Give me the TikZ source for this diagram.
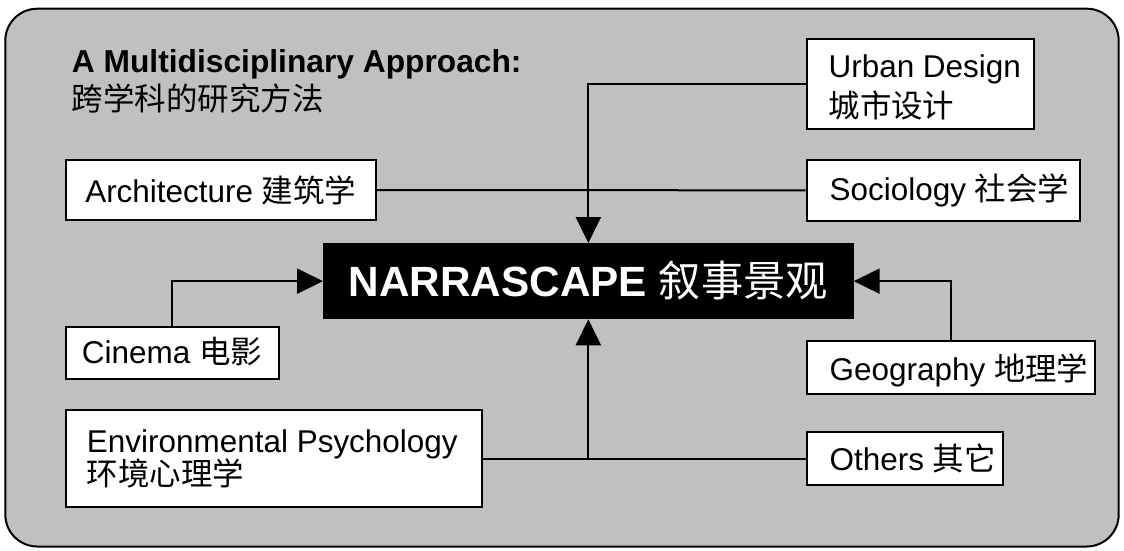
\documentclass[tikz,border=0pt]{standalone}
\usepackage{fontspec}
\setmainfont{Liberation Sans}
\newfontfamily\cjk{Noto Sans CJK SC}
\usetikzlibrary{arrows.meta,fit}
\definecolor{bggray}{HTML}{C0C0C0}
\begin{document}
\begin{tikzpicture}[x=0.75pt,y=-0.75pt,
  box/.style={draw=black, line width=1.5pt, fill=white, rectangle, inner sep=0pt},
  corebox/.style={draw=black, line width=1.5pt, fill=black, rectangle, inner sep=0pt},
  txt/.style={anchor=base west, inner sep=0pt, font=\fontsize{23.6}{28}\selectfont},
  conn/.style={line width=1.5pt},
  arr/.style={line width=1.5pt, -{Triangle[length=19.5pt,width=18.75pt]}}]
\useasboundingbox (0,0) rectangle (1124,550);
\draw[line width=1.5pt, fill=bggray, rounded corners=24pt] (5.3,8.7) rectangle (1118.7,546.5);

% title
\node[txt, font=\bfseries\fontsize{23.8}{28}\selectfont] (title) at (71.7,72.7) {A Multidisciplinary Approach:};
\node[txt] (titlecn) at (71.7,110) {\cjk 跨学科的研究方法};

% boxes
\node[box, fit={(806.7,39) (1034,129.3)}] (urban) {};
\node[box, fit={(806.7,160) (1080,220.7)}] (soc) {};
\node[box, fit={(66,160) (376,220)}] (arch) {};
\node[corebox, fit={(324,244) (852.7,318.3)}] (core) {};
\node[box, fit={(66,326.7) (278.6,379.3)}] (cin) {};
\node[box, fit={(66,410) (482,507.3)}] (env) {};
\node[box, fit={(806.7,341) (1094.9,394.3)}] (geo) {};
\node[box, fit={(806.7,432.3) (1003.3,485)}] (oth) {};

% texts
\node[txt] (urbant1) at (828.3,77.7) {Urban Design};
\node[txt] (urbant2) at (828.3,117.5) {\cjk 城市设计};
\node[txt] (soct) at (829.3,200.7) {Sociology {\cjk 社会学}};
\node[txt] (archt) at (85,202.3) {Architecture {\cjk 建筑学}};
\node[anchor=base, inner sep=0pt, text=white, font=\bfseries\fontsize{31.7}{36}\selectfont] (coret) at (588.4,296) {NARRASCAPE {\mdseries\cjk 叙事景观}};
\node[txt] (cint) at (81.7,363.3) {Cinema {\cjk 电影}};
\node[txt] (envt1) at (86.7,452.3) {Environmental Psychology};
\node[txt] (envt2) at (86.7,485.5) {\cjk 环境心理学};
\node[txt] (geot) at (829.3,380) {Geography {\cjk 地理学}};
\node[txt] (otht) at (829.3,470.7) {Others {\cjk 其它}};

% connectors
\draw[conn] (arch.east) -- (soc.west);
\draw[conn] (env.east) -- (oth.west);
\draw[arr] (urban.west) -| (core.north);
\draw[arr] (cin.north) |- (core.west);
\draw[arr] (geo.north) |- (core.east);
\draw[arr] (env.east -| core.south) -- (core.south);
\end{tikzpicture}
\end{document}
